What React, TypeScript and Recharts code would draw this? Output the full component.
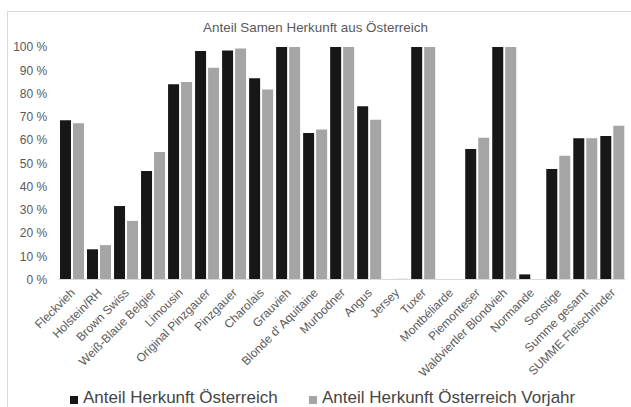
import React from 'react'
import {
  BarChart,
  Bar,
  XAxis,
  YAxis,
  CartesianGrid,
  Legend,
} from 'recharts'

const categories = [
  'Fleckvieh',
  'Holstein/RH',
  'Brown Swiss',
  'Weiß-Blaue Belgier',
  'Limousin',
  'Original Pinzgauer',
  'Pinzgauer',
  'Charolais',
  'Grauvieh',
  "Blonde d' Aquitaine",
  'Murbodner',
  'Angus',
  'Jersey',
  'Tuxer',
  'Montbéliarde',
  'Piemonteser',
  'Waldviertler Blondvieh',
  'Normande',
  'Sonstige',
  'Summe gesamt',
  'SUMME Fleischrinder',
]

// Anteil Herkunft Österreich (%)
const anteil = [
  68.5, 13, 31.6, 46.7, 84, 98.3, 98.5, 86.6, 100, 63, 100, 74.5, 0, 100, 0, 56.1,
  100, 2.2, 47.5, 60.8, 61.7,
]

// Anteil Herkunft Österreich Vorjahr (%)
const vorjahr = [
  67.2, 14.8, 25.2, 54.8, 85, 91.1, 99.4, 81.7, 100, 64.5, 100, 68.7, 0.3, 100, 0,
  61, 100, 0, 53.2, 60.8, 66.1,
]

const yTicks = [0, 10, 20, 30, 40, 50, 60, 70, 80, 90, 100]

const seriesNames = {
  anteil: 'Anteil Herkunft Österreich',
  vorjahr: 'Anteil Herkunft Österreich Vorjahr',
}

const data = categories.map((name, i) => ({
  name,
  anteil: anteil[i],
  vorjahr: vorjahr[i],
}))

const TEXT = '#595959'
const GRID = '#d9d9d9'
const BLACK = '#171717'
const GREY = '#a5a5a5'

const XTick = (props: any) => {
  const { x, y, payload } = props
  const tx = x + 4
  const ty = y + 6
  return (
    <text
      x={tx}
      y={ty}
      transform={`rotate(-45 ${tx} ${ty})`}
      textAnchor="end"
      fontSize={12}
      fill={TEXT}
    >
      {payload.value}
    </text>
  )
}

const LegendContent = () => {
  const items = [
    { label: seriesNames.anteil, color: BLACK, left: 70 },
    { label: seriesNames.vorjahr, color: GREY, left: 309 },
  ]
  return (
    <div style={{ position: 'relative', height: 0 }}>
      {items.map((it) => (
        <div
          key={it.label}
          style={{
            position: 'absolute',
            left: it.left,
            top: 388,
            display: 'flex',
            alignItems: 'center',
            whiteSpace: 'nowrap',
            fontSize: 17,
            color: '#454545',
            lineHeight: '20px',
          }}
        >
          <span
            style={{
              display: 'inline-block',
              width: 8,
              height: 8,
              background: it.color,
              marginRight: 5,
              marginTop: 3,
            }}
          />
          {it.label}
        </div>
      ))}
    </div>
  )
}

const App = () => {
  return (
    <div style={{ position: 'absolute', left: 0, top: 0 }}>
      <BarChart
        width={631}
        height={407}
        data={data}
        margin={{ top: 47, right: 5.5, bottom: 27.5, left: 8.2 }}
        barGap={2}
        barCategoryGap="6.7%"
        style={{ fontFamily: '"Liberation Sans", Arial, sans-serif' }}
      >
        <rect
          x={7.5}
          y={11.5}
          width={700}
          height={500}
          fill="#fff"
          stroke={GRID}
        />
        <text
          x={315.5}
          y={32}
          textAnchor="middle"
          fontSize={13.4}
          fill={TEXT}
        >
          Anteil Samen Herkunft aus Österreich
        </text>
        <CartesianGrid vertical={false} stroke={GRID} />
        <XAxis
          dataKey="name"
          interval={0}
          height={100}
          tickLine={false}
          axisLine={{ stroke: GRID }}
          tick={<XTick />}
        />
        <YAxis
          width={50}
          domain={[0, 100]}
          ticks={yTicks}
          tickFormatter={(v) => `${v} %`}
          axisLine={false}
          tickLine={false}
          tickSize={0}
          tickMargin={11}
          tick={{ fontSize: 12, fill: TEXT }}
        />
        <Legend
          content={<LegendContent />}
          wrapperStyle={{ left: 0, top: 0, width: 631 }}
        />
        <Bar
          dataKey="anteil"
          name={seriesNames.anteil}
          fill={BLACK}
          isAnimationActive={false}
        />
        <Bar
          dataKey="vorjahr"
          name={seriesNames.vorjahr}
          fill={GREY}
          isAnimationActive={false}
        />
      </BarChart>
    </div>
  )
}

export default App
